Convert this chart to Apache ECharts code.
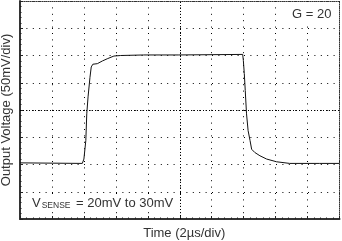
<!DOCTYPE html>
<html><head><meta charset="utf-8">
<script src="https://cdn.jsdelivr.net/npm/echarts@6/dist/echarts.min.js"></script>
<style>html,body{margin:0;padding:0;background:#fff}#c{width:342px;height:241px}</style>
</head><body><div id="c"></div>
<script>
// time in µs (2 µs/div), output in mV (50 mV/div) relative to bottom of screen
var timeUs = [0, 3.9, 4.0, 4.12, 4.18, 4.26, 4.38, 4.46, 4.56, 4.84, 5.16, 5.46, 5.88, 6.3, 7.74, 9.9, 13.94, 13.98, 14.04, 14.1, 14.18, 14.28, 14.4, 14.5, 14.7, 15.02, 15.44, 16.06, 16.88, 18.76, 20];
var outMv  = [103, 102, 110, 144, 193, 224, 260, 279, 284, 285, 290, 294, 299, 300, 301, 301, 302, 291, 267, 236, 193, 162, 144, 128, 122, 116, 110, 105, 102, 102, 102];
var xMin = 0, xMax = 20, xStep = 2;
var yMin = 0, yMax = 400, yStep = 50;
var centerX = [10], centerY = [200];
var xTitle = 'Time (2µs/div)';
var yTitle = 'Output Voltage (50mV/div)';
var gainText = 'G = 20';
var senseMain = 'V', senseSub = 'SENSE', senseRest = ' = 20mV to 30mV';

var pts = timeUs.map(function(t,i){return [t, outMv[i]];});
var txt = '#333';
var ff = '"Liberation Sans", Arial, sans-serif';
var chart = echarts.init(document.getElementById('c'), null, {renderer:'canvas'});
chart.setOption({
  animation:false,
  grid:{left:20, right:2.5, top:1, bottom:22, containLabel:false, outerBoundsMode:'none'},
  xAxis:[{
    type:'value', min:xMin, max:xMax, interval:xStep,
    name:xTitle, nameLocation:'middle', nameGap:8,
    nameTextStyle:{color:txt, fontSize:13, fontFamily:ff, padding:[0,0,0,9]},
    axisLine:{show:true, onZero:false, lineStyle:{color:'#333', width:2}},
    axisTick:{show:true, inside:true, length:3, lineStyle:{color:'#222'}},
    minorTick:{show:true, splitNumber:5, length:1.5, lineStyle:{color:'#222'}},
    axisLabel:{show:false},
    splitLine:{show:true, lineStyle:{color:'#000', width:1, type:[1,5.4]}}
  },{
    type:'value', position:'top', min:xMin, max:xMax, interval:xStep,
    axisLine:{show:true, onZero:false, lineStyle:{color:'#333', width:1, type:[1,1]}},
    axisTick:{show:false}, axisLabel:{show:false}, splitLine:{show:false}
  }],
  yAxis:[{
    type:'value', min:yMin, max:yMax, interval:yStep,
    name:yTitle, nameLocation:'middle', nameGap:7,
    nameTextStyle:{color:txt, fontSize:13, fontFamily:ff},
    axisLine:{show:true, onZero:false, lineStyle:{color:'#333', width:2}},
    axisTick:{show:true, inside:true, length:3, lineStyle:{color:'#222'}},
    minorTick:{show:true, splitNumber:5, length:1.5, lineStyle:{color:'#222'}},
    axisLabel:{show:false},
    splitLine:{show:true, lineStyle:{color:'#000', width:1, type:[1,5.4]}}
  },{
    type:'value', position:'right', min:yMin, max:yMax, interval:yStep,
    axisLine:{show:true, onZero:false, lineStyle:{color:'#333', width:1, type:[1,1]}},
    axisTick:{show:false}, axisLabel:{show:false}, splitLine:{show:false}
  }],
  series:[{
    type:'line', data:pts, symbol:'none', z:5,
    lineStyle:{color:'#111', width:1},
    markLine:{silent:true, symbol:'none', label:{show:false}, z:1,
      lineStyle:{color:'#000', width:1, type:[1,2]},
      data: centerX.map(function(v){return {xAxis:v};}).concat(centerY.map(function(v){return {yAxis:v};}))
    }
  }],
  graphic:[{
    type:'text', left:289, top:7, z:10,
    style:{text:gainText, fill:txt, font:'13px ' + ff, backgroundColor:'#fff', padding:[1,3]}
  },{
    type:'text', left:30, top:194, z:10,
    style:{
      text:'{m|'+senseMain+'}{s|'+senseSub+'}{m|'+senseRest+'}',
      backgroundColor:'#fff', padding:[1,2],
      rich:{
        m:{fill:txt, fontSize:13, fontFamily:ff, verticalAlign:'bottom', lineHeight:15},
        s:{fill:txt, fontSize:8.5, fontFamily:ff, verticalAlign:'bottom', lineHeight:12, padding:[0,2,0,1]}
      }
    }
  }]
});
</script></body></html>
